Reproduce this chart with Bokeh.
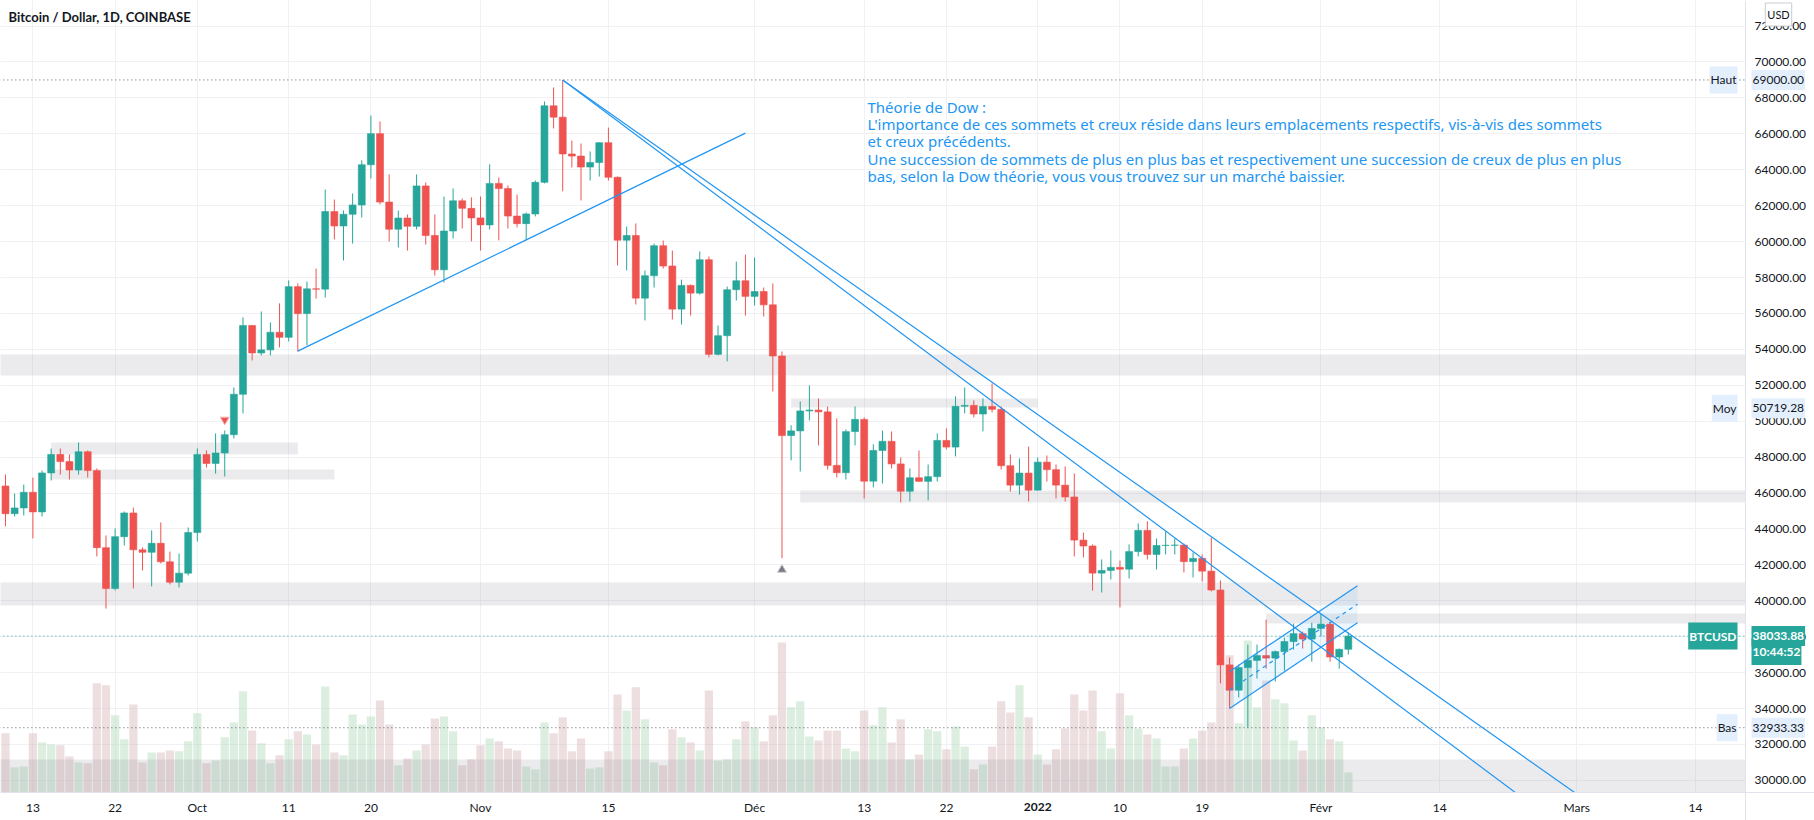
import numpy as np
import pandas as pd
from bokeh.plotting import figure
from bokeh.models import (Range1d, FixedTicker, NumeralTickFormatter, Label,
                          ColumnDataSource)
from bokeh.embed import file_html
from bokeh.resources import INLINE
from bokeh.core.properties import value

# ---------------- data ----------------
START = "2021-09-10"
opens = [
    46390, 44850, 45170, 46040, 44950, 47120, 48150, 47750, 47280, 48300, 47250, 42960, 40680, 43570, 44890, 42840, 42700, 43200, 42170, 41030, 41540,
    43800, 48150, 47650, 48230, 49250, 51500, 55330, 53800, 53970, 54950, 54670, 57490, 55990, 57370, 57350, 61670, 60870, 61520, 62040, 64280, 66010, 62200, 60690, 61310, 60850, 63100, 60340, 58430, 60590, 62270, 61850,
    61320, 60930, 63240, 62950, 61420, 61000, 61540, 63300, 67560, 66930, 64880, 64760, 64150, 64400, 65510, 63580, 60080, 60340, 56850, 58100, 59770, 58640, 56240, 57560, 57130, 58990, 53720, 54760, 57320, 57820,
    56950, 57220, 56480, 53630, 49200, 49460, 50570, 50620, 50520, 47540, 47130, 49420, 50100, 46660, 48370, 48880, 47620, 46100, 46850, 46650, 46910, 48930, 48560, 50830, 50880, 50400, 50820, 50660, 47520, 46440, 47110,
    46160, 47720, 47300, 46440, 45780, 43380, 43050, 41540, 41690, 41860, 41760, 42740, 43920, 42580, 43080, 43090, 43100, 42180, 42360, 41650, 40600, 36430, 35020, 36280, 36680, 36950, 36810, 37170, 37730, 38170, 37870,
    38460, 38700, 36870, 37300,
]
highs = [
    47030, 45970, 46470, 46860, 47250, 48480, 48480, 48150, 48820, 48370, 47370, 43640, 44030, 44970, 45190, 42970, 43920, 44360, 42740, 42630, 44080,
    48480, 48370, 49320, 49480, 51880, 55780, 55330, 56110, 55500, 56560, 57840, 57670, 57780, 58500, 62900, 62340, 61730, 62680, 64520, 67020, 66690, 63740, 61730, 61510, 63740, 63290, 61510, 62510, 62960, 62400, 62460,
    62510, 64300, 63570, 63130, 62620, 61620, 63400, 67800, 68580, 69000, 65630, 65460, 65020, 65520, 66350, 63630, 60840, 61010, 58390, 59890, 60060, 59500, 57880, 57610, 59450, 59170, 55330, 57500, 58890, 59280,
    59110, 57440, 57670, 53880, 49770, 51100, 51990, 51270, 50820, 50150, 49540, 50820, 50210, 48710, 49480, 49430, 47980, 47370, 48370, 47590, 49320, 49600, 51380, 51880, 51160, 51270, 52100, 50820, 48150, 47930, 48590,
    47980, 48090, 47590, 47480, 47090, 43800, 43140, 42300, 42800, 42240, 43140, 44310, 44420, 43470, 43860, 43470, 43190, 42690, 42580, 43520, 41130, 36850, 36450, 37560, 37560, 38950, 37230, 37950, 38730, 38280, 38780,
    39290, 38840, 37340, 38230,
]
lows = [
    44150, 44690, 44750, 43470, 44690, 46700, 47030, 46750, 47030, 46860, 42470, 39570, 40580, 43080, 40690, 41690, 40800, 42080, 40910, 40740, 41410,
    43300, 47420, 47080, 46920, 49040, 50430, 53380, 53660, 53660, 54110, 54440, 53880, 54220, 56830, 56890, 60120, 58950, 59890, 61340, 63510, 62070, 60010, 59670, 59500, 60680, 59840, 58110, 57720, 60170, 60730, 60010,
    59500, 60680, 60070, 60730, 60790, 60070, 61400, 63240, 66300, 62800, 64130, 62290, 63400, 63620, 63400, 58670, 58390, 56500, 55610, 57440, 58500, 55660, 55380, 55880, 57050, 53550, 53660, 53330, 56720, 55880,
    56440, 55830, 51660, 42370, 47820, 47200, 50040, 48650, 47310, 46870, 46750, 48650, 45700, 46310, 46530, 47370, 45480, 45530, 46640, 45590, 46640, 48430, 48040, 50430, 50210, 49430, 50490, 47310, 46080, 45910, 45530,
    46140, 46640, 45700, 45530, 42470, 42410, 40570, 40460, 41190, 39630, 41240, 42470, 42300, 41740, 42580, 42580, 41580, 41300, 41070, 40520, 35400, 34010, 34620, 32933.33, 35670, 36220, 35500, 36110, 37280, 37340, 36610,
    38010, 36610, 36220, 37010,
]
closes = [
    44850, 45170, 46040, 44950, 47120, 48150, 47750, 47280, 48300, 47250, 42960, 40680, 43570, 44890, 42840, 42700, 43200, 42170, 41030, 41540, 43800,
    48150, 47650, 48230, 49250, 51500, 55330, 53800, 53970, 54950, 54670, 57490, 55990, 57370, 57350, 61670, 60870, 61520, 62040, 64280, 66010, 62200, 60690, 61310, 60850, 63100, 60340, 58430, 60590, 62270, 61850, 61320,
    60930, 63240, 62950, 61420, 61000, 61540, 63300, 67560, 66930, 64880, 64760, 64150, 64400, 65510, 63580, 60080, 60340, 56850, 58100, 59770, 58640, 56240, 57560, 57130, 58990, 53720, 54760, 57320, 57820, 56950,
    57220, 56480, 53630, 49200, 49460, 50570, 50620, 50520, 47540, 47130, 49420, 50100, 46660, 48370, 48880, 47620, 46100, 46850, 46650, 46910, 48930, 48560, 50830, 50880, 50400, 50820, 50660, 47520, 46440, 47110, 46160,
    47720, 47300, 46440, 45780, 43380, 43050, 41540, 41690, 41860, 41760, 42740, 43920, 42580, 43080, 43090, 43100, 42180, 42360, 41650, 40600, 36430, 35020, 36280, 36680, 36950, 36810, 37170, 37730, 38170, 37870, 38460,
    38700, 36870, 37300, 38033.88,
]
volumes = [
    14.8, 6.3, 6.5, 14.8, 12.5, 12.0, 11.8, 9.0, 7.5, 7.3, 27.3, 26.8, 19.3, 13.3, 22.0, 7.5, 10.0, 10.0, 10.5, 10.3, 12.8,
    19.8, 7.3, 8.0, 13.8, 17.5, 25.3, 15.5, 12.3, 7.3, 9.3, 13.3, 15.3, 14.5, 12.0, 26.5, 10.0, 9.3, 19.5, 17.0, 19.0, 23.0, 17.0, 6.8, 8.5, 10.5, 12.0, 18.5, 19.0, 15.3, 6.8, 8.3,
    11.8, 13.5, 12.8, 11.0, 10.5, 6.5, 5.8, 17.5, 14.8, 18.8, 10.3, 13.5, 6.0, 6.3, 10.3, 24.5, 20.5, 26.3, 18.3, 7.5, 6.8, 15.8, 13.8, 12.5, 10.5, 25.5, 8.0, 8.3, 13.3, 17.8,
    16.3, 12.8, 19.3, 37.5, 21.3, 22.8, 14.0, 13.0, 15.5, 15.5, 11.0, 10.3, 20.5, 16.8, 21.3, 12.5, 18.3, 8.3, 9.5, 15.8, 15.3, 10.8, 16.5, 11.5, 5.8, 7.0, 11.5, 22.8, 20.0, 26.8, 18.8,
    9.5, 7.0, 10.8, 16.0, 24.5, 20.5, 25.5, 15.3, 11.0, 24.8, 19.3, 16.0, 14.5, 13.5, 6.5, 6.5, 11.0, 13.5, 15.5, 17.5, 32.5, 34.3, 17.3, 38.0, 21.3, 28.0, 23.3, 22.3, 13.0, 10.5, 19.3,
    16.3, 13.3, 12.8, 5.0,
]

tick_dates = ["2021-09-13", "2021-09-22", "2021-10-01", "2021-10-11", "2021-10-20", "2021-11-01",
              "2021-11-15", "2021-12-01", "2021-12-13", "2021-12-22", "2022-01-01", "2022-01-10",
              "2022-01-19", "2022-02-01", "2022-02-14", "2022-03-01", "2022-03-14"]
tick_labels = ["13", "22", "Oct", "11", "20", "Nov", "15", "Déc", "13", "22", "2022", "10",
               "19", "Févr", "14", "Mars", "14"]
price_ticks = list(range(30000, 74000, 2000))

# horizontal zones (start date / end date, None = chart edge)
zone_start = [None, None, "2021-12-06", "2021-12-05", "2021-09-15", "2021-09-15", "2022-01-26", None]
zone_end = [None, None, None, "2022-01-01", "2021-10-12", "2021-10-16", None, None]
zone_low = [52545, 39738, 45473, 50763, 48146, 46753, 38736, 25000]
zone_high = [53714, 41019, 46141, 51264, 48814, 47310, 39293, 31163]

# trend lines
rise_dates = ["2021-10-12", "2021-11-30"]
rise_prices = [53900, 66040]
fall_dates = ["2021-11-10", "2022-01-26"]
fall_a_prices = [69000, 41419]
fall_b_prices = [69000, 39701]
chan_dates = ["2022-01-22", "2022-02-05"]
chan_low = [34000, 38780]
chan_width = 2060

mark_dates = ["2021-10-04", "2021-12-04"]
mark_prices = [50080, 41730]

high_val, mid_val, low_val, last_val = 69000.00, 50719.28, 32933.33, 38033.88
countdown = "10:44:52"

note_lines = [
    "Théorie de Dow :",
    "L'importance de ces sommets et creux réside dans leurs emplacements respectifs, vis-à-vis des sommets",
    "et creux précédents.",
    "Une succession de sommets de plus en plus bas et respectivement une succession de creux de plus en plus",
    "bas, selon la Dow théorie, vous vous trouvez sur un marché baissier.",
]

# ---------------- layout helpers ----------------
W, H = 1814, 820
PANE_W, PANE_H = 1745, 792          # price pane; axes live in the remaining strip
PX_DAY = 9.135
X_LEFT = -3.547
X_RIGHT = X_LEFT + W / PX_DAY
PX_PRICE = 55.68                     # dollars per pixel
Y_TOP = 73424.0
Y_BOT = Y_TOP - H * PX_PRICE
VOL_PER_PX = 0.25
ORIGIN = pd.Timestamp("2021-09-13")


def dx(d):
    return (pd.Timestamp(d) - ORIGIN).days


def sx(px):
    return X_LEFT + px / PX_DAY


def sy(py):
    return Y_TOP - py * PX_PRICE


UP, DOWN = "#26a69a", "#ef5350"
BLUE = "#2196f3"
TXT = "#131722"
FONT = "Lato"
PANE_R = sx(PANE_W)
PANE_B = sy(PANE_H)

dates = pd.date_range(START, periods=len(opens), freq="D")
xs = [(d - ORIGIN).days for d in dates]
up = [c >= o for o, c in zip(opens, closes)]
src = ColumnDataSource(dict(
    x=xs, high=highs, low=lows,
    top=[max(o, c) for o, c in zip(opens, closes)],
    bottom=[min(o, c) for o, c in zip(opens, closes)],
    color=[UP if u else DOWN for u in up],
    vol=volumes,
    vcolor=["#b9ddc1" if u else "#dbbdc1" for u in up],
))

p = figure(width=W, height=H, output_backend="svg", toolbar_location=None,
           x_range=Range1d(X_LEFT, X_RIGHT), y_range=Range1d(Y_BOT, Y_TOP),
           y_axis_location="right", min_border=0,
           min_border_left=0, min_border_top=0, min_border_right=0, min_border_bottom=0,
           background_fill_color="white", border_fill_color="white")
p.outline_line_color = None
p.extra_y_ranges = {"vol": Range1d(-(H - PANE_H) * VOL_PER_PX, PANE_H * VOL_PER_PX)}

# axes (drawn at the pane edges)
xt = [dx(d) for d in tick_dates]
p.xaxis.ticker = FixedTicker(ticks=xt)
p.xaxis.major_label_overrides = {t: (" " if l == "2022" else l) for t, l in zip(xt, tick_labels)}
p.xaxis.fixed_location = PANE_B
p.yaxis.ticker = FixedTicker(ticks=price_ticks)
p.yaxis.formatter = NumeralTickFormatter(format="0.00")
p.yaxis.fixed_location = PANE_R
for ax in (p.xaxis, p.yaxis):
    ax.axis_line_color = "#e0e3eb"
    ax.major_tick_line_color = None
    ax.minor_tick_line_color = None
    ax.major_tick_out = 0
    ax.major_tick_in = 0
    ax.minor_tick_out = 0
    ax.major_label_text_font = FONT
    ax.major_label_text_font_size = "12px"
    ax.major_label_text_color = TXT
p.xaxis.major_label_standoff = 7
p.yaxis.major_label_standoff = 9
p.xgrid.ticker = FixedTicker(ticks=xt)
p.ygrid.ticker = FixedTicker(ticks=price_ticks)
p.grid.grid_line_color = "#eff1f5"
p.grid.grid_line_width = 1

# volume
p.vbar(x="x", width=0.9, top="vol", bottom=0, y_range_name="vol", source=src,
       fill_color="vcolor", fill_alpha=0.5, line_color=None)

# zones
zl = [X_LEFT - 2 if s is None else dx(s) for s in zone_start]
zr = [PANE_R if e is None else dx(e) for e in zone_end]
p.quad(left=zl, right=zr, bottom=[max(v, PANE_B) for v in zone_low], top=zone_high,
       fill_color="#787b86", fill_alpha=0.15, line_color=None)

# price lines
for val, col in ((high_val, "#5d606b"), (low_val, "#5d606b"), (last_val, UP)):
    p.line([X_LEFT - 1, PANE_R], [val, val], line_color=col, line_dash="1 3", line_width=1)

# candles
p.segment(x0="x", y0="high", x1="x", y1="low", color="color", line_width=1, source=src)
p.vbar(x="x", width=0.76, top="top", bottom="bottom", fill_color="color",
       line_color="color", line_width=0.6, source=src)

# drawings
p.line([dx(d) for d in rise_dates], rise_prices, color=BLUE, line_width=1.2)
for prices in (fall_a_prices, fall_b_prices):
    x0, x1 = dx(fall_dates[0]), dx(fall_dates[1])
    slope = (prices[1] - prices[0]) / (x1 - x0)
    xe = X_RIGHT + 5
    p.line([x0, xe], [prices[0], prices[0] + slope * (xe - x0)], color=BLUE, line_width=1.2)

cx = [dx(d) for d in chan_dates]
lo = chan_low
hi = [v + chan_width for v in chan_low]
mid = [v + chan_width / 2 for v in chan_low]
p.patch(cx + cx[::-1], lo + hi[::-1], fill_color=BLUE, fill_alpha=0.09, line_color=None)
p.line(cx, lo, color=BLUE, line_width=1.2)
p.line(cx, hi, color=BLUE, line_width=1.2)
p.line(cx, mid, color=BLUE, line_width=1.2, line_dash="4 4")

# markers
p.scatter([dx(mark_dates[0])], [mark_prices[0]], marker="inverted_triangle", size=9,
          fill_color=DOWN, line_color="#f7b9b8", line_width=1)
p.scatter([dx(mark_dates[1])], [mark_prices[1]], marker="triangle", size=9,
          fill_color="#787b86", line_color="#c9cbd1", line_width=1)

# annotation text
p.text(x=[sx(867)] * len(note_lines), y=[sy(96 + 17.35 * i) for i in range(len(note_lines))],
       text=note_lines, text_font=value("Noto Sans"), text_font_size="15px",
       text_color=BLUE, text_baseline="top", text_align="left")

# blank axis strips (right price scale and bottom time scale)
p.quad(left=[PANE_R, X_LEFT - 2], right=[X_RIGHT + 2, X_RIGHT + 2],
       bottom=[Y_BOT - 1000, Y_BOT - 1000], top=[Y_TOP + 1000, PANE_B],
       fill_color="white", line_color=None)

# title
p.add_layout(Label(x=sx(8), y=sy(16), text="Bitcoin / Dollar, 1D, COINBASE",
                   text_font=FONT, text_font_style="bold", text_font_size="13px",
                   text_color=TXT, text_baseline="middle"))

# bold year tick label
p.add_layout(Label(x=dx("2022-01-01"), y=sy(806), text="2022", text_font=FONT,
                   text_font_style="bold", text_font_size="12px", text_color=TXT,
                   text_align="center", text_baseline="middle"))


def tag(text, x_px, price, align, bg, fg, bold=False, border=None):
    lab = Label(x=sx(x_px), y=price, text=text, text_align=align, text_baseline="middle",
                text_font=FONT, text_font_size="12px", text_color=fg,
                text_font_style="bold" if bold else "normal",
                background_fill_color=bg, background_fill_alpha=1.0,
                border_line_color=border, padding=(1, 6))
    p.add_layout(lab)


LB = "#e3effd"
tag("Haut", 1737, high_val, "right", LB, TXT)
tag(f"{high_val:.2f}", 1751, high_val, "left", LB, TXT)
tag("Moy", 1737, mid_val, "right", LB, TXT)
tag(f"{mid_val:.2f}", 1751, mid_val, "left", LB, TXT)
tag("Bas", 1737, low_val, "right", LB, TXT)
tag(f"{low_val:.2f}", 1751, low_val, "left", LB, TXT)
tag("BTCUSD", 1737, last_val, "right", UP, "white", bold=True)
tag(countdown, 1751, sy(651), "left", UP, "white", bold=True)
tag(f"{last_val:.2f}", 1751, last_val, "left", UP, "white", bold=True)
p.add_layout(Label(x=sx(1778), y=sy(14), text="USD", text_align="center", text_baseline="middle",
                   text_font=FONT, text_font_size="11px", text_color=TXT,
                   background_fill_color="white", border_line_color="#c9cbd1",
                   padding=(2, 5)))

open("out.html", "w").write(file_html(p, INLINE))
